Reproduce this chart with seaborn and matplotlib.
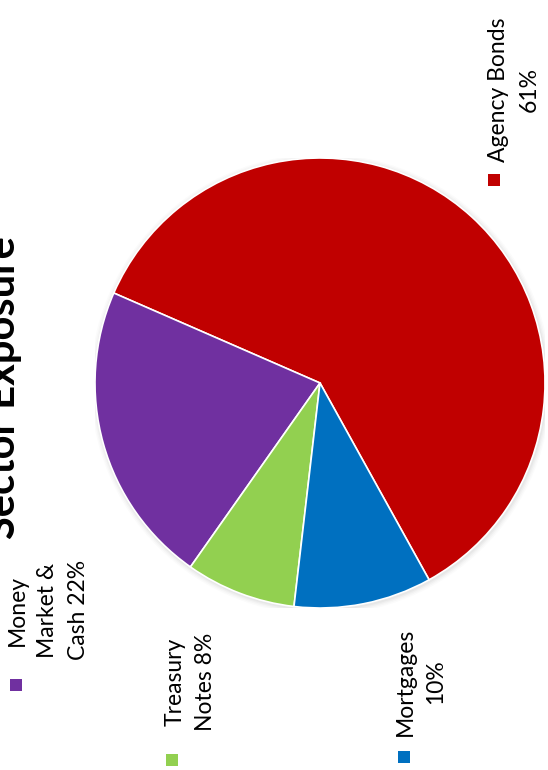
import matplotlib
matplotlib.use("Agg")
import matplotlib.pyplot as plt
from matplotlib.patches import Rectangle, Circle
import seaborn as sns

# Sector allocation (percent of portfolio)
sectors = ["Agency Bonds", "Money Market & Cash", "Treasury Notes", "Mortgages"]
shares = [61, 22, 8, 10]
# how each legend caption breaks across lines (percentage appended)
caption_heads = ["Agency Bonds\n", "Money\nMarket &\nCash ", "Treasury\nNotes ", "Mortgages\n"]
colors = ["#C00000", "#7030A0", "#92D050", "#0070C0"]
title = "Sector Exposure"

sns.set_theme(style="white")
plt.rcParams["font.family"] = ["Lato", "DejaVu Sans"]

W, H = 548, 770
fig = plt.figure(figsize=(W / 100, H / 100), dpi=100)
fig.patch.set_facecolor("white")


def fx(px):
    return px / W


def fy(py):
    return 1 - py / H


# pie occupies a square box, laid on its side
cx, cy, r = 320, 383, 225
ax = fig.add_axes([fx(cx - r), fy(cy + r), 2 * r / W, 2 * r / H])
ax.set_xlim(-1, 1)
ax.set_ylim(-1, 1)
ax.axis("off")

# soft shadow around the rim
for k, a in enumerate([0.06, 0.05, 0.04, 0.03]):
    ax.add_patch(Circle((0.004, -0.006), 1.0 + 0.006 * (k + 1), color="#808080",
                        alpha=a, lw=0, zorder=0))

ax.pie(shares, colors=colors, startangle=299, counterclock=True, radius=1.0,
       wedgeprops=dict(edgecolor="white", linewidth=1.2))
ax.set_xlim(-1, 1)
ax.set_ylim(-1, 1)
ax.set_aspect("auto")

# title, rotated along the left edge
fig.text(fx(22), fy(388), title, rotation=90, ha="right", va="center",
         fontsize=30, fontweight="bold", color="black")

# rotated legend entries: (square centre, caption left edge, caption centre y)
entries = [
    ((494, 180), (488, 90)),
    ((16, 685), (7, 610)),
    ((172, 760), (165, 682)),
    ((404, 757), (395, 682)),
]
sq = 12
for (sqc, (tx, ty)), head, v, col in zip(entries, caption_heads, shares, colors):
    fig.add_artist(Rectangle((fx(sqc[0] - sq / 2), fy(sqc[1] + sq / 2)), sq / W, sq / H,
                             transform=fig.transFigure, facecolor=col, edgecolor="none"))
    fig.text(fx(tx), fy(ty), f"{head}{v}%", rotation=90, ha="left", va="center",
             multialignment="center", fontsize=16.5, color="black", linespacing=1.55)

fig.savefig("out.png", dpi=100, facecolor="white")
